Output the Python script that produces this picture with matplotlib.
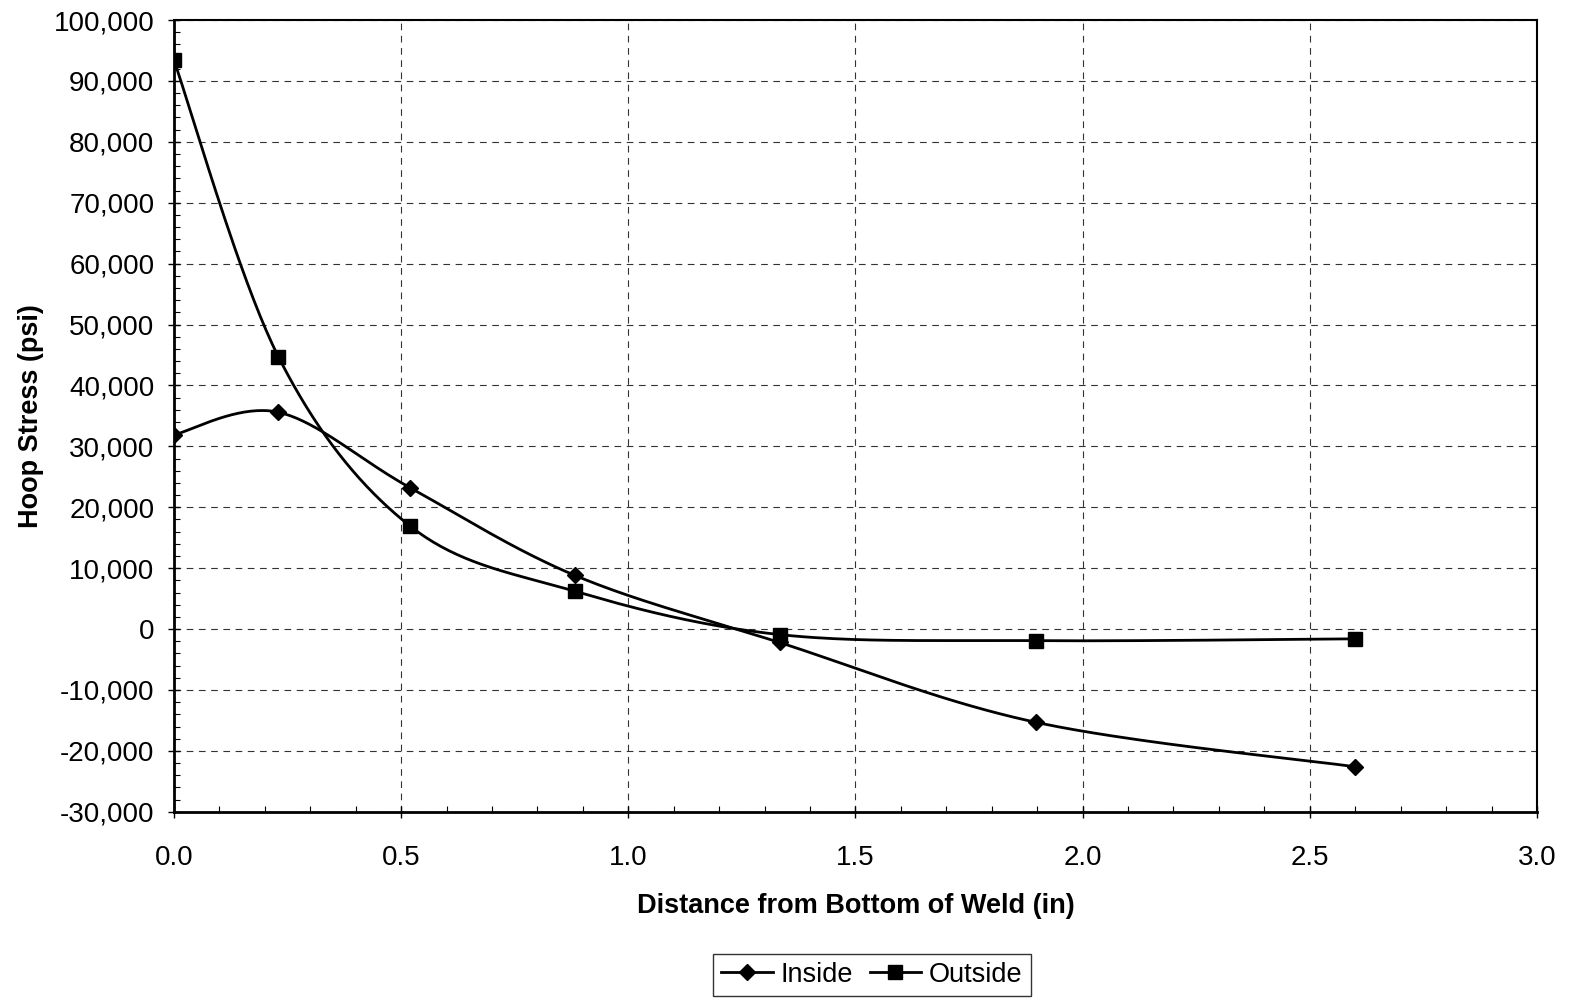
import numpy as np
import matplotlib
matplotlib.use("Agg")
import matplotlib.pyplot as plt
from matplotlib.ticker import MultipleLocator, FuncFormatter

# data
dist = [0.0, 0.23, 0.52, 0.883, 1.333, 1.897, 2.60]
inside = [31900, 35600, 23200, 8800, -2200, -15300, -22600]
outside = [93400, 44700, 16900, 6200, -900, -1900, -1600]

def excel_smooth(x, y, n=40):
    # bezier smoothing like Excel "smoothed line"
    p = np.column_stack([x, y]).astype(float)
    p = np.vstack([p[0], p, p[-1]])
    xs, ys = [], []
    t = np.linspace(0, 1, n)[:, None]
    for i in range(1, len(p) - 2):
        p0, p1, p2, p3 = p[i - 1], p[i], p[i + 1], p[i + 2]
        c1 = p1 + (p2 - p0) / 6
        c2 = p2 - (p3 - p1) / 6
        b = (1 - t) ** 3 * p1 + 3 * (1 - t) ** 2 * t * c1 + 3 * (1 - t) * t ** 2 * c2 + t ** 3 * p2
        xs += list(b[:, 0]); ys += list(b[:, 1])
    return xs, ys

plt.rcParams['font.family'] = ['Liberation Sans', 'DejaVu Sans']

fig = plt.figure(figsize=(15.77, 10.01), dpi=100)
ax = fig.add_axes([0.1103, 0.189, 0.8643, 0.791])

for vals, mk, ms, lab in [(inside, 'D', 8, 'Inside'), (outside, 's', 10.5, 'Outside')]:
    sx, sy = excel_smooth(dist, vals)
    ax.plot(sx, sy, color='black', lw=2)
    ax.plot(dist, vals, ls='none', marker=mk, ms=ms, color='black')
    ax.plot([], [], color='black', lw=2, marker=mk, ms=ms, label=lab)

ax.set_xlim(0, 3.0)
ax.set_ylim(-30000, 100000)
ax.xaxis.set_major_locator(MultipleLocator(0.5))
ax.xaxis.set_minor_locator(MultipleLocator(0.1))
ax.yaxis.set_major_locator(MultipleLocator(10000))
ax.yaxis.set_minor_locator(MultipleLocator(2000))
ax.xaxis.set_major_formatter(FuncFormatter(lambda v, p: f"{v:.1f}"))
ax.yaxis.set_major_formatter(FuncFormatter(lambda v, p: f"{int(v):,}"))

ax.grid(True, which='major', color='#333333', ls=(0, (6, 5)), lw=0.8)
ax.tick_params(which='major', direction='inout', length=8, width=1, labelsize=20)
ax.tick_params(which='minor', direction='in', length=4, width=0.8)
ax.tick_params(axis='x', pad=20)
ax.tick_params(axis='y', pad=10)

for s in ['left', 'bottom']:
    ax.spines[s].set_linewidth(2)
for s in ['top', 'right']:
    ax.spines[s].set_linewidth(1.5)

ax.set_xlabel('Distance from Bottom of Weld (in)', fontsize=19.5, fontweight='bold', labelpad=16)
ax.set_ylabel('Hoop Stress (psi)', fontsize=19.5, fontweight='bold', labelpad=7)

leg = fig.legend(loc='center', bbox_to_anchor=(0.553, 0.026), ncol=2, fontsize=19.5,
                 frameon=True, fancybox=False, edgecolor='black', handlelength=1.9,
                 handletextpad=0.3, columnspacing=0.6, borderpad=0.3)
leg.get_frame().set_linewidth(1)

fig.savefig('out.png', dpi=100)
